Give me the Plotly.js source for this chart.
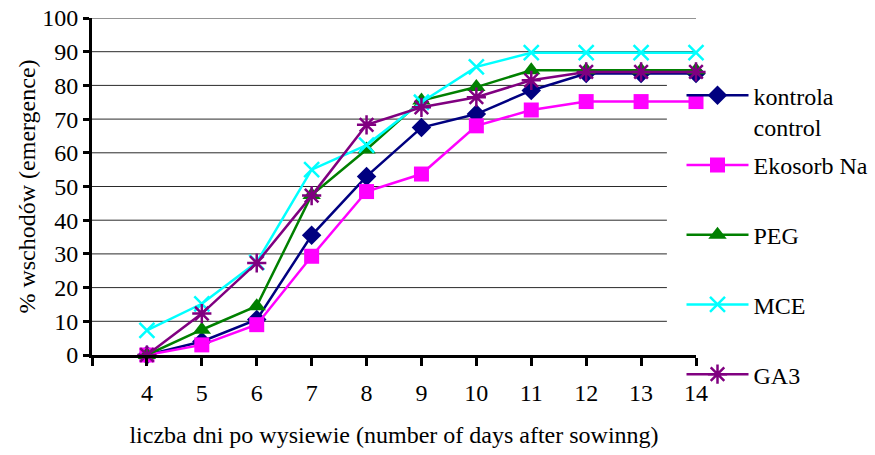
<!DOCTYPE html>
<html>
<head>
<meta charset="utf-8">
<script src="https://cdn.plot.ly/plotly-3.0.1.min.js"></script>
<style>html,body{margin:0;padding:0;background:#fff;}#chart{width:875px;height:455px;}</style>
</head>
<body>
<div id="chart"></div>
<script>
const days = [4, 5, 6, 7, 8, 9, 10, 11, 12, 13, 14];
const kontrola = [0, 4, 10.5, 35.5, 53, 67.5, 71.5, 78.5, 83.5, 83.5, 83.5];
const ekosorb = [0, 3, 9, 29.3, 48.5, 53.7, 68, 72.7, 75.2, 75.2, 75.2];
const peg = [0, 7.5, 14.5, 47.5, 61, 75.5, 79.5, 84.5, 84.5, 84.5, 84.5];
const mce = [7.3, 15.2, 27.5, 55, 62.3, 75, 85.5, 89.7, 89.7, 89.7, 89.7];
const ga3 = [0, 12.3, 27.3, 47.3, 68.3, 73.5, 76.5, 81.5, 84, 84, 84];
const seriesNames = ["kontrola<br>control", "Ekosorb Na<br>\u00a0", "PEG<br>\u00a0", "MCE<br>\u00a0", "GA3<br>\u00a0"];
const xTickVals = [3, 4, 5, 6, 7, 8, 9, 10, 11, 12, 13, 14];
const xTickText = ["", "4", "5", "6", "7", "8", "9", "10", "11", "12", "13", "14"];
const yTickVals = [0, 10, 20, 30, 40, 50, 60, 70, 80, 90, 100];

const FONT = "Liberation Serif";
const FS = 24;

const styles = [
  {color: "#000080", symbol: "diamond", size: 15, mline: 0},
  {color: "#FF00FF", symbol: "square", size: 15, mline: 0},
  {color: "#008000", symbol: "triangle-up", size: 16, mline: 0},
  {color: "#00FFFF", symbol: "x-thin-open", size: 15, mline: 2.5},
  {color: "#800080", symbol: "asterisk-open", size: 16, mline: 2.5}
];
const allY = [kontrola, ekosorb, peg, mce, ga3];

const traces = allY.map((ys, i) => ({
  x: days, y: ys, name: seriesNames[i], type: "scatter", mode: "lines+markers",
  legendgroup: "g" + i,
  line: {color: styles[i].color, width: 2.5},
  marker: {color: styles[i].color, symbol: styles[i].symbol, size: styles[i].size,
           line: {color: styles[i].color, width: styles[i].mline}},
  cliponaxis: false
}));

const shapes = yTickVals.filter(v => v > 0).map(v => ({
  type: "line", xref: "x", yref: "y", layer: "below",
  x0: 3, x1: v >= 90 ? 14 : 13.47, y0: v, y1: v,
  line: {color: "#2a2a2a", width: 1}
}));

const layout = {
  width: 875, height: 455,
  margin: {l: 92, r: 179, t: 18, b: 100, autoexpand: false},
  paper_bgcolor: "#fff", plot_bgcolor: "rgba(0,0,0,0)",
  font: {family: FONT, size: FS, color: "#000"},
  showlegend: true,
  legend: {x: 0.976, xanchor: "left", y: 0.836, yanchor: "top",
           bgcolor: "rgba(0,0,0,0)", font: {family: FONT, size: FS, color: "#000"},
           valign: "top", tracegroupgap: 4.3, itemwidth: 62},
  xaxis: {range: [3, 14], tickmode: "array", tickvals: xTickVals, ticktext: xTickText,
          showgrid: false, zeroline: false, showline: true, linecolor: "#000", linewidth: 3,
          ticks: "outside", ticklen: 8, tickwidth: 3, tickcolor: "#000",
          ticklabelstandoff: 6,
          tickfont: {family: FONT, size: FS},
          title: {text: "liczba dni po wysiewie (number of days after sowinng)",
                  font: {family: FONT, size: FS}, standoff: 22}},
  yaxis: {range: [0, 100], tickmode: "array", tickvals: yTickVals,
          showgrid: false, zeroline: false, showline: true, linecolor: "#000", linewidth: 3,
          ticks: "outside", ticklen: 6, tickwidth: 3, tickcolor: "#000",
          tickfont: {family: FONT, size: FS},
          title: {text: "% wschodów (emergence)", font: {family: FONT, size: FS}, standoff: 0}},
  shapes: shapes
};

Plotly.newPlot("chart", traces, layout, {displayModeBar: false, staticPlot: true});
</script>
</body>
</html>
